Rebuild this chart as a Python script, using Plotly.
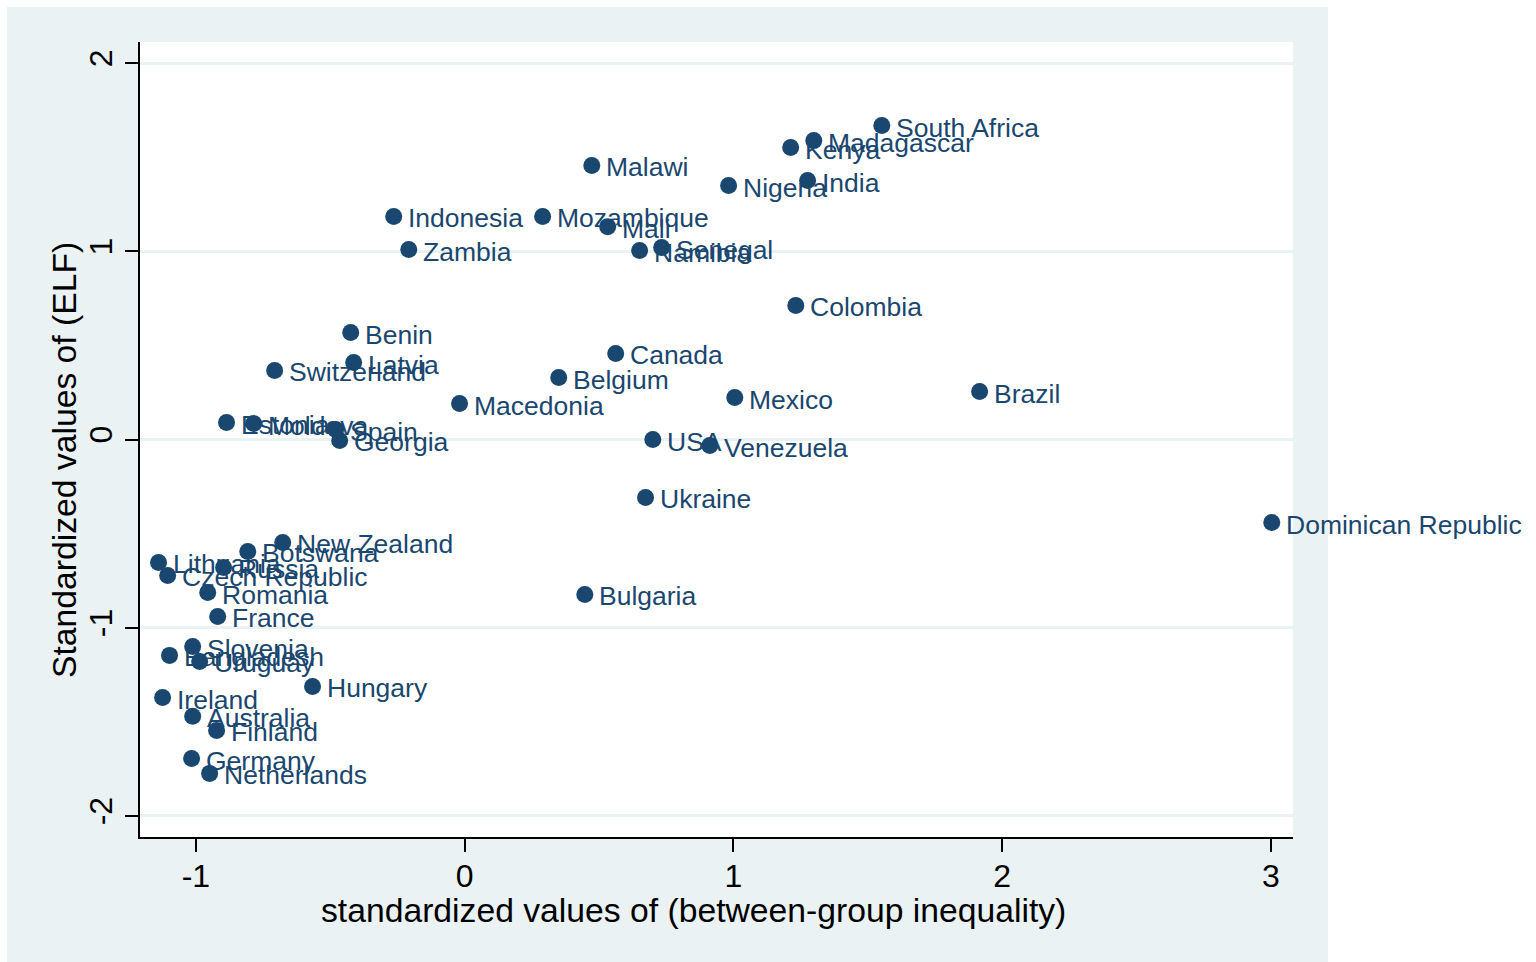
import plotly.graph_objects as go

# Standardized between-group inequality (x) and ethno-linguistic fractionalization (y)
countries = ["South Africa", "Madagascar", "Kenya", "Malawi", "Nigeria", "India",
             "Indonesia", "Mozambique", "Mali", "Senegal", "Namibia", "Zambia",
             "Colombia", "Benin", "Canada", "Latvia", "Switzerland", "Belgium",
             "Brazil", "Mexico", "Macedonia", "Estonia", "Moldova", "Spain",
             "Georgia", "USA", "Venezuela", "Ukraine", "Dominican Republic",
             "New Zealand", "Botswana", "Lithuania", "Russia", "Czech Republic",
             "Romania", "France", "Bulgaria", "Slovenia", "Bangladesh", "Uruguay",
             "Hungary", "Ireland", "Australia", "Finland", "Germany", "Netherlands"]
inequality = [1.552, 1.299, 1.213, 0.473, 0.982, 1.276,
              -0.264, 0.290, 0.532, 0.733, 0.651, -0.208,
              1.232, -0.424, 0.562, -0.413, -0.707, 0.350,
              1.916, 1.005, -0.019, -0.886, -0.785, -0.480,
              -0.465, 0.700, 0.912, 0.673, 3.003,
              -0.677, -0.807, -1.139, -0.897, -1.105,
              -0.956, -0.919, 0.447, -1.012, -1.098, -0.986,
              -0.566, -1.124, -1.012, -0.923, -1.016, -0.949]
elf = [1.668, 1.588, 1.551, 1.456, 1.349, 1.376,
       1.185, 1.185, 1.131, 1.020, 1.004, 1.009,
       0.712, 0.568, 0.457, 0.409, 0.367, 0.329,
       0.255, 0.223, 0.191, 0.090, 0.085, 0.053,
       -0.005, 0.000, -0.032, -0.308, -0.441,
       -0.547, -0.595, -0.653, -0.680, -0.722,
       -0.813, -0.940, -0.823, -1.100, -1.147, -1.179,
       -1.312, -1.371, -1.471, -1.546, -1.695, -1.774]

x_ticks = [-1, 0, 1, 2, 3]
x_ticktext = ["-1", "0", "1", "2", "3"]
y_ticks = [-2, -1, 0, 1, 2]
y_ticktext = ["-2", "-1", "0", "1", "2"]

x_title = "standardized values of (between-group inequality)"
y_title = "Standardized values of (ELF)"

NAVY = "#1a476f"
BAND = "#eaf2f3"
FONT = "Liberation Sans, Arial, sans-serif"

fig = go.Figure()
fig.add_trace(go.Scatter(
    x=inequality, y=elf, text=countries, mode="markers",
    marker=dict(size=17, color=NAVY, line=dict(width=0)),
    cliponaxis=False, hoverinfo="text", showlegend=False,
))

# marker labels at 3 o'clock
for name, xv, yv in zip(countries, inequality, elf):
    fig.add_annotation(
        x=xv, y=yv, xref="x", yref="y", text=name, showarrow=False,
        xanchor="left", yanchor="middle", xshift=12, yshift=-2,
        font=dict(family=FONT, size=26.5, color=NAVY),
    )

# axis titles
fig.add_annotation(
    x=(693.5 - 140) / 1153, y=(837 - 910) / 795, xref="paper", yref="paper",
    text=x_title, showarrow=False, xanchor="center", yanchor="middle",
    font=dict(family=FONT, size=33.7, color="black"),
)
fig.add_annotation(
    x=(64 - 140) / 1153, y=(837 - 460) / 795, xref="paper", yref="paper",
    text=y_title, showarrow=False, xanchor="center", yanchor="middle",
    textangle=-90, font=dict(family=FONT, size=33.7, color="black"),
)

# outer graph region and white plot region
fig.add_shape(type="rect", xref="paper", yref="paper", layer="below",
              x0=-0.1153, x1=1.0304, y0=-0.158, y1=1.044,
              fillcolor=BAND, line=dict(width=0))
fig.add_shape(type="rect", xref="paper", yref="paper", layer="below",
              x0=0, x1=1, y0=0, y1=1,
              fillcolor="white", line=dict(width=0))

fig.update_layout(
    width=1536, height=962,
    margin=dict(l=140, r=243, t=42, b=125, autoexpand=False),
    paper_bgcolor="white", plot_bgcolor="white",
    font=dict(family=FONT, color="black"),
    xaxis=dict(
        range=[-1.208, 3.082], tickvals=x_ticks, ticktext=x_ticktext,
        showgrid=False, zeroline=False,
        showline=True, linecolor="black", linewidth=1.5,
        ticks="outside", ticklen=13, tickwidth=1.5, tickcolor="black",
        ticklabelstandoff=-3,
        tickfont=dict(size=32, family=FONT, color="black"),
    ),
    yaxis=dict(
        range=[-2.112, 2.112], tickvals=y_ticks, ticktext=y_ticktext,
        showgrid=True, gridcolor=BAND, gridwidth=2.5, zeroline=False,
        showline=True, linecolor="black", linewidth=1.5,
        ticks="outside", ticklen=13, tickwidth=1.5, tickcolor="black",
        tickangle=-90,
        tickfont=dict(size=32, family=FONT, color="black"),
    ),
)

fig.write_html("out.html")
